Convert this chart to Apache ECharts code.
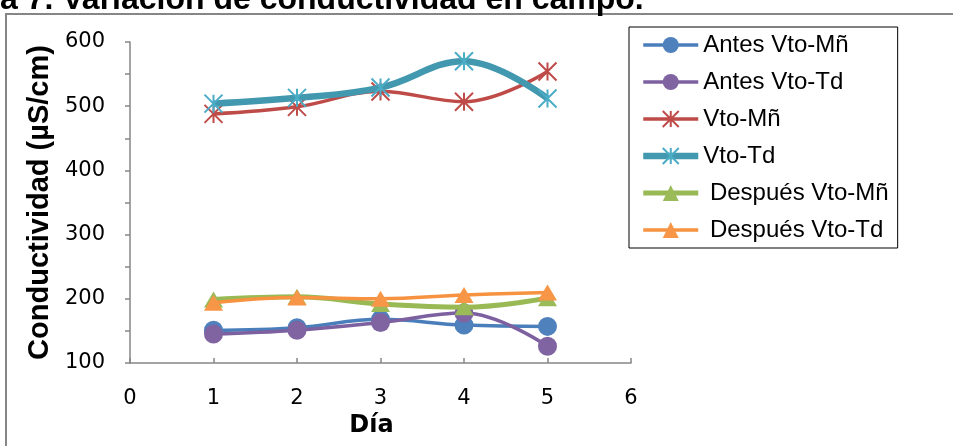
<!DOCTYPE html>
<html>
<head>
<meta charset="utf-8">
<script src="https://cdn.jsdelivr.net/npm/echarts@6/dist/echarts.min.js"></script>
<style>
  html, body { margin: 0; padding: 0; background: #fff; }
  #chart { width: 953px; height: 446px; }
</style>
</head>
<body>
<div id="chart"></div>
<script>
// Field conductivity readings per day (µS/cm)
const days = [1, 2, 3, 4, 5];
const xTicks = [0, 1, 2, 3, 4, 5, 6];
const yTicks = [100, 200, 300, 400, 500, 600];

const antesVtoMn = [151, 155, 168, 159, 157];
const antesVtoTd = [145, 151, 163, 178, 126];
const vtoMn = [488, 499, 523, 507, 554];
const vtoTd = [504, 513, 529, 570, 512];
const despuesVtoMn = [199, 203, 192, 187, 201];
const despuesVtoTd = [194, 202, 200, 206, 210];

const seriesNames = ['Antes Vto-Mñ', 'Antes Vto-Td', 'Vto-Mñ', 'Vto-Td', ' Después Vto-Mñ', ' Después Vto-Td'];
const titleText = 'a 7. Variación de conductividad en campo.';
const xName = 'Día';
const yName = 'Conductividad (µS/cm)';

// asterisk marker: two diagonals plus a vertical stroke
const ASTERISK = 'path://M0,0L10,10M10,0L0,10M5,0L5,10';

const styles = [
  { line: '#4A7EBB', fill: '#4F81BD', width: 3.5, symbol: 'circle', size: 19 },
  { line: '#7D60A0', fill: '#8064A2', width: 3.5, symbol: 'circle', size: 19 },
  { line: '#BE4B48', fill: '#BE4B48', width: 3.5, symbol: ASTERISK, size: 18, stroke: 2 },
  { line: '#4198AF', fill: '#4BACC6', width: 6.5, symbol: ASTERISK, size: 18, stroke: 2 },
  { line: '#98B954', fill: '#9BBB59', width: 5, symbol: 'triangle', size: [19, 16] },
  { line: '#F69240', fill: '#F79646', width: 3.5, symbol: 'triangle', size: [19, 16] }
];
const values = [antesVtoMn, antesVtoTd, vtoMn, vtoTd, despuesVtoMn, despuesVtoTd];

const AXIS_GRAY = '#868686';
const TICK_FONT = 'DejaVu Sans';
const TEXT_FONT = 'Liberation Sans';

function markerStyle(s) {
  return s.stroke
    ? { color: s.fill, borderColor: s.fill, borderWidth: s.stroke }
    : { color: s.fill, borderWidth: 0 };
}

const series = values.map((vals, i) => {
  const s = styles[i];
  return {
    name: seriesNames[i],
    type: 'line',
    data: days.map((d, k) => [d, vals[k]]),
    smooth: 0.4,
    symbol: s.symbol,
    symbolSize: s.size,
    showAllSymbol: true,
    lineStyle: { color: s.line, width: s.width },
    itemStyle: markerStyle(s),
    emphasis: { disabled: true },
    z: 2 + i
  };
});

const legendData = seriesNames.map((name, i) => ({
  name,
  lineStyle: { color: styles[i].line, width: styles[i].width },
  itemStyle: markerStyle(styles[i])
}));

const chart = echarts.init(document.getElementById('chart'), null, { renderer: 'canvas' });
chart.setOption({
  backgroundColor: '#fff',
  animation: false,
  graphic: [
    {
      type: 'rect',
      shape: { x: 6, y: 14, width: 1200, height: 700 },
      style: { fill: 'none', stroke: AXIS_GRAY, lineWidth: 2 },
      z: -10
    },
    {
      type: 'text',
      x: 0,
      y: 0.5,
      style: {
        text: titleText,
        font: 'bold 32px "Liberation Sans"',
        fill: '#000',
        align: 'left',
        verticalAlign: 'middle'
      }
    }
  ],
  legend: {
    data: legendData,
    orient: 'vertical',
    left: 629,
    top: 27,
    padding: [6, 9, 6, 11],
    itemWidth: 55,
    itemHeight: 20,
    itemGap: 13,
    borderColor: '#000',
    borderWidth: 1,
    backgroundColor: '#fff',
    textStyle: { fontFamily: TEXT_FONT, fontSize: 24, color: '#000', lineHeight: 24 }
  },
  grid: { left: 130, top: 42, width: 501, height: 321, containLabel: false },
  xAxis: {
    type: 'value',
    min: xTicks[0],
    max: xTicks[xTicks.length - 1],
    interval: 1,
    name: xName,
    nameLocation: 'middle',
    nameGap: 34,
    nameTextStyle: {
      fontFamily: TICK_FONT, fontWeight: 'bold', fontSize: 24, color: '#000',
      padding: [0, 18, 0, 0]
    },
    axisLine: { lineStyle: { color: AXIS_GRAY, width: 1.5 } },
    axisTick: { show: true, inside: true, length: 5, lineStyle: { color: AXIS_GRAY, width: 1.5 } },
    axisLabel: { fontFamily: TICK_FONT, fontSize: 21, color: '#000', margin: 25 },
    splitLine: { show: false }
  },
  yAxis: {
    type: 'value',
    min: yTicks[0],
    max: yTicks[yTicks.length - 1],
    interval: 50,
    name: yName,
    nameLocation: 'middle',
    nameRotate: 90,
    nameGap: 70,
    nameTextStyle: { fontFamily: TEXT_FONT, fontWeight: 'bold', fontSize: 29, color: '#000' },
    axisLine: { show: true, lineStyle: { color: AXIS_GRAY, width: 1.5 } },
    axisTick: { show: true, inside: false, length: 5, lineStyle: { color: AXIS_GRAY, width: 1.5 } },
    axisLabel: {
      fontFamily: TICK_FONT, fontSize: 21, color: '#000', margin: 25,
      formatter: v => (yTicks.includes(v) ? String(v) : '')
    },
    splitLine: { show: false }
  },
  series
});
</script>
</body>
</html>
